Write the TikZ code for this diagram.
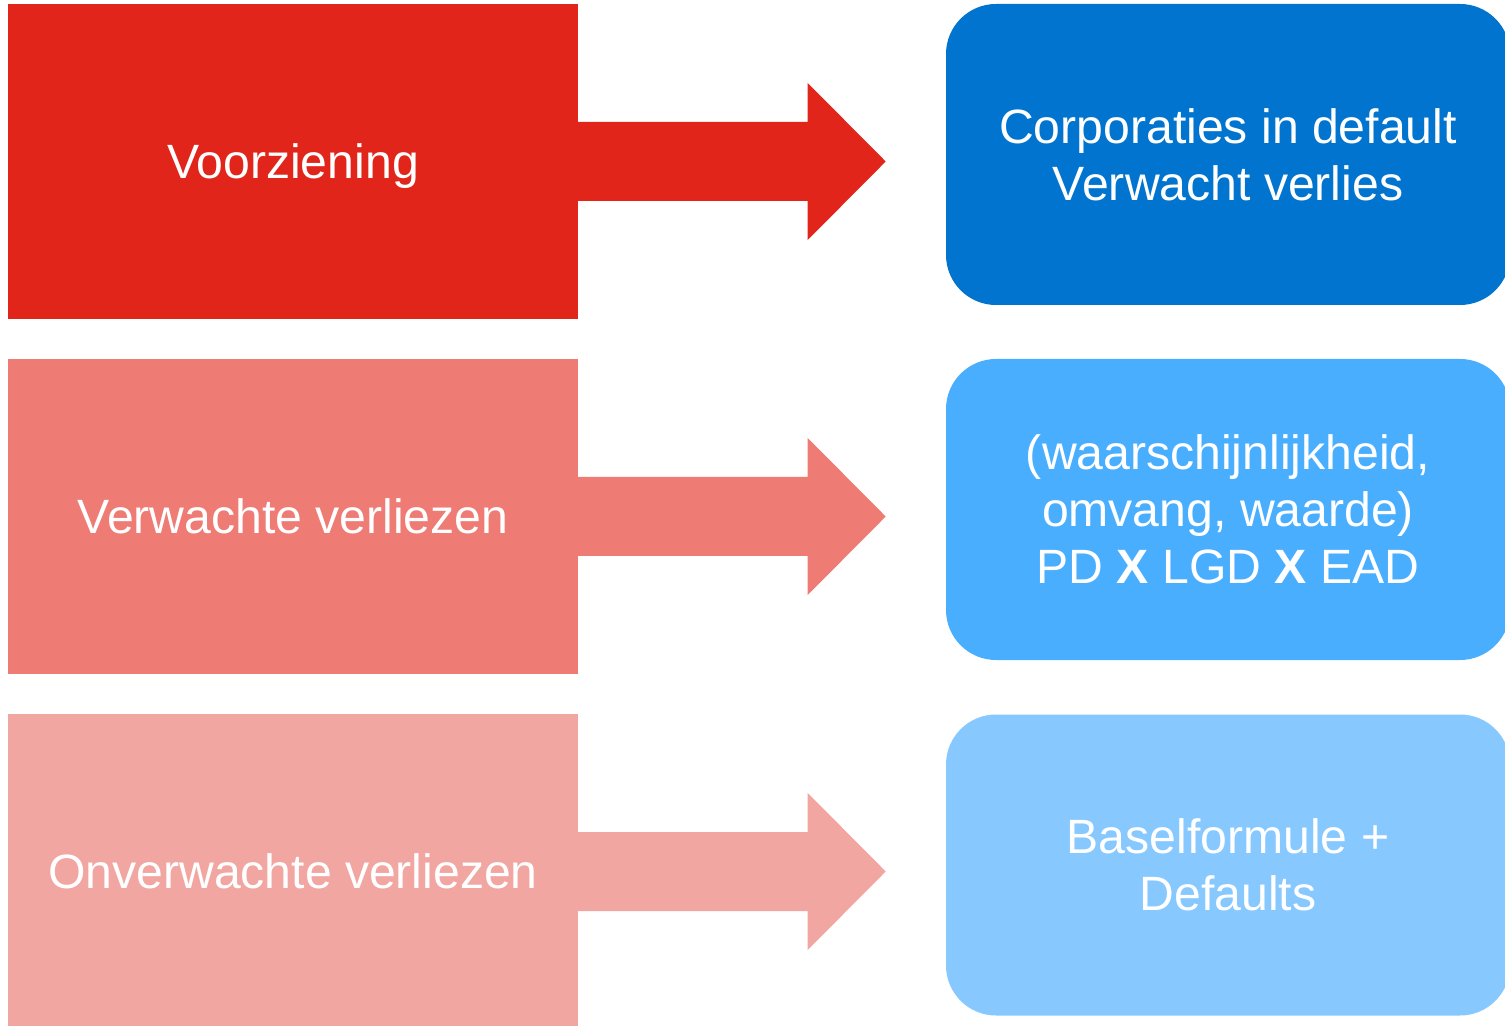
\documentclass[tikz,border=0pt]{standalone}
\usepackage{fontspec}
\setmainfont{Liberation Sans}
\usepackage{xcolor}
\definecolor{redA}{HTML}{E1251B}
\definecolor{redB}{HTML}{EE7B74}
\definecolor{redC}{HTML}{F2A6A1}
\definecolor{blueA}{HTML}{0074CE}
\definecolor{blueB}{HTML}{4AAEFF}
\definecolor{blueC}{HTML}{87C8FF}
\usepackage{tikz}
\usetikzlibrary{calc,positioning}

\begin{document}
\begin{tikzpicture}[
  lbox/.style={minimum width=5.7cm, minimum height=3.15cm, inner sep=0pt, text depth=0pt, text=white, font=\fontsize{13.7}{16.3}\selectfont, align=center},
  rbox/.style={rounded corners=0.5cm, minimum width=5.64cm, minimum height=3.01cm, inner sep=0pt, text=white, font=\fontsize{13.7}{16.3}\selectfont, align=center}
]
  \clip (0,0) rectangle (15.05,-10.26);
  \fill[white] (0,0) rectangle (15.05,-10.26);

  \node[lbox, fill=redA] (voor) at (2.93,-1.615) {Voorziening};
  \node[lbox, fill=redB] (verw) at (2.93,-5.165) {Verwachte verliezen};
  \node[lbox, fill=redC] (onv) at (2.93,-8.715) {Onverwachte verliezen};

  \node[rbox, fill=blueA] (corp) at (12.28,-1.545) {Corporaties in default\\Verwacht verlies};
  \node[rbox, fill=blueB] (pd) at (12.28,-5.095) {(waarschijnlijkheid,\\omvang, waarde)\\PD \textbf{X} LGD \textbf{X} EAD};
  \node[rbox, fill=blueC] (basel) at (12.28,-8.65) {Baselformule +\\Defaults};

  % arrows
  \fill[redA] ($(voor.east)+(-0.02,0.395)$) -- ++(2.31,0) -- ++(0,0.39) -- ($(voor.east)+(3.07,0)$) -- ++(-0.78,-0.785) -- ++(0,0.39) -- ($(voor.east)+(-0.02,-0.395)$) -- cycle;
  \fill[redB] ($(verw.east)+(-0.02,0.395)$) -- ++(2.31,0) -- ++(0,0.39) -- ($(verw.east)+(3.07,0)$) -- ++(-0.78,-0.785) -- ++(0,0.39) -- ($(verw.east)+(-0.02,-0.395)$) -- cycle;
  \fill[redC] ($(onv.east)+(-0.02,0.395)$) -- ++(2.31,0) -- ++(0,0.39) -- ($(onv.east)+(3.07,0)$) -- ++(-0.78,-0.785) -- ++(0,0.39) -- ($(onv.east)+(-0.02,-0.395)$) -- cycle;
\end{tikzpicture}
\end{document}
